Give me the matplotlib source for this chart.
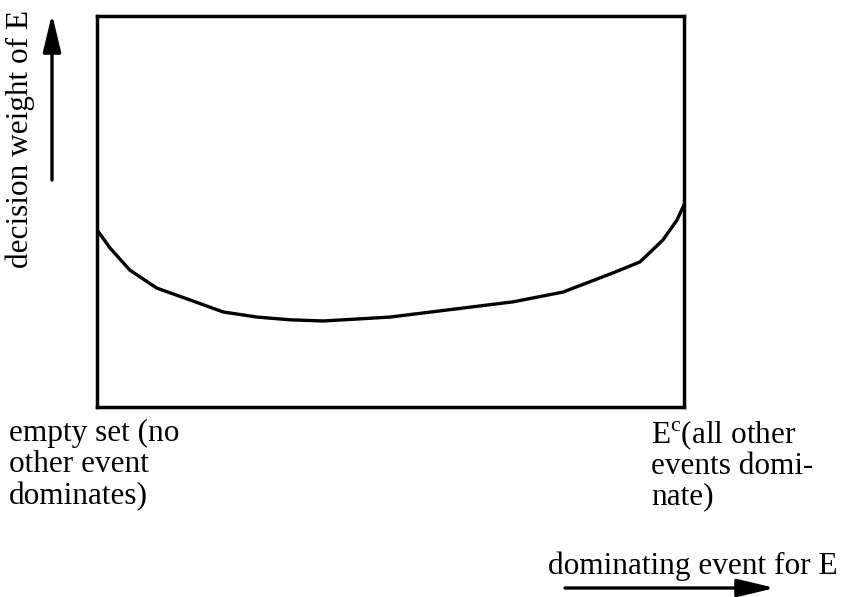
import matplotlib.pyplot as plt
from matplotlib.patches import FancyArrowPatch

# curve (x: position of dominating event, y: decision weight)
x_vals = [0, 2.2, 5.6, 10.2, 15.8, 21.5, 27.3, 32.9, 38.5, 44.3, 49.9,
          59.6, 70.9, 79.4, 87.9, 92.5, 96.4, 98.8, 100]
y_vals = [45.3, 40.7, 35.0, 30.4, 27.4, 24.3, 23.0, 22.3, 22.0, 22.5, 23.0,
          24.8, 26.9, 29.4, 34.3, 37.1, 42.7, 47.8, 51.7]

left_label = ['empty set (no', 'other event', 'dominates)']
right_label = ['E$^{\\mathregular{c}}$(all other', 'events domi-', 'nate)']
y_label = 'decision weight of E'
x_label = 'dominating event for E'

plt.rcParams['font.family'] = ['Liberation Serif', 'DejaVu Serif']
plt.rcParams['mathtext.fontset'] = 'custom'
plt.rcParams['mathtext.rm'] = 'Liberation Serif'

W, H = 847, 597
fig = plt.figure(figsize=(W / 100, H / 100), dpi=100)
ax = fig.add_axes([97 / W, 1 - 407 / H, 587 / W, 391 / H])
ax.plot(x_vals, y_vals, color='black', lw=2.4)
ax.set_xlim(0, 100)
ax.set_ylim(0, 100)
ax.set_xticks([])
ax.set_yticks([])
for s in ax.spines.values():
    s.set_linewidth(2.5)


def fx(px):
    return px / W


def fy(py):
    return 1 - py / H


def arrow(p0, p1):
    a = FancyArrowPatch((fx(p0[0]), fy(p0[1])), (fx(p1[0]), fy(p1[1])),
                        transform=fig.transFigure,
                        arrowstyle='-|>,head_length=2.3,head_width=0.55',
                        mutation_scale=10, shrinkA=0, shrinkB=0,
                        lw=2.4, color='black')
    fig.patches.append(a)


fs = 22.5
# y axis label and arrow
fig.text(fx(20), fy(139), y_label, rotation=90, ha='center', va='center', fontsize=fs)
arrow((52, 180), (52, 14))

# corner labels
for i, t in enumerate(left_label):
    fig.text(fx(9), fy(433 + 32 * i), t, ha='left', va='center', fontsize=fs)
for i, t in enumerate(right_label):
    fig.text(fx(651), fy(435 + 31 * i), t, ha='left', va='center', fontsize=fs)

# x axis label and arrow
fig.text(fx(548), fy(566), x_label, ha='left', va='center', fontsize=fs)
arrow((565, 588), (775, 588))

fig.savefig('out.png', dpi=100)
